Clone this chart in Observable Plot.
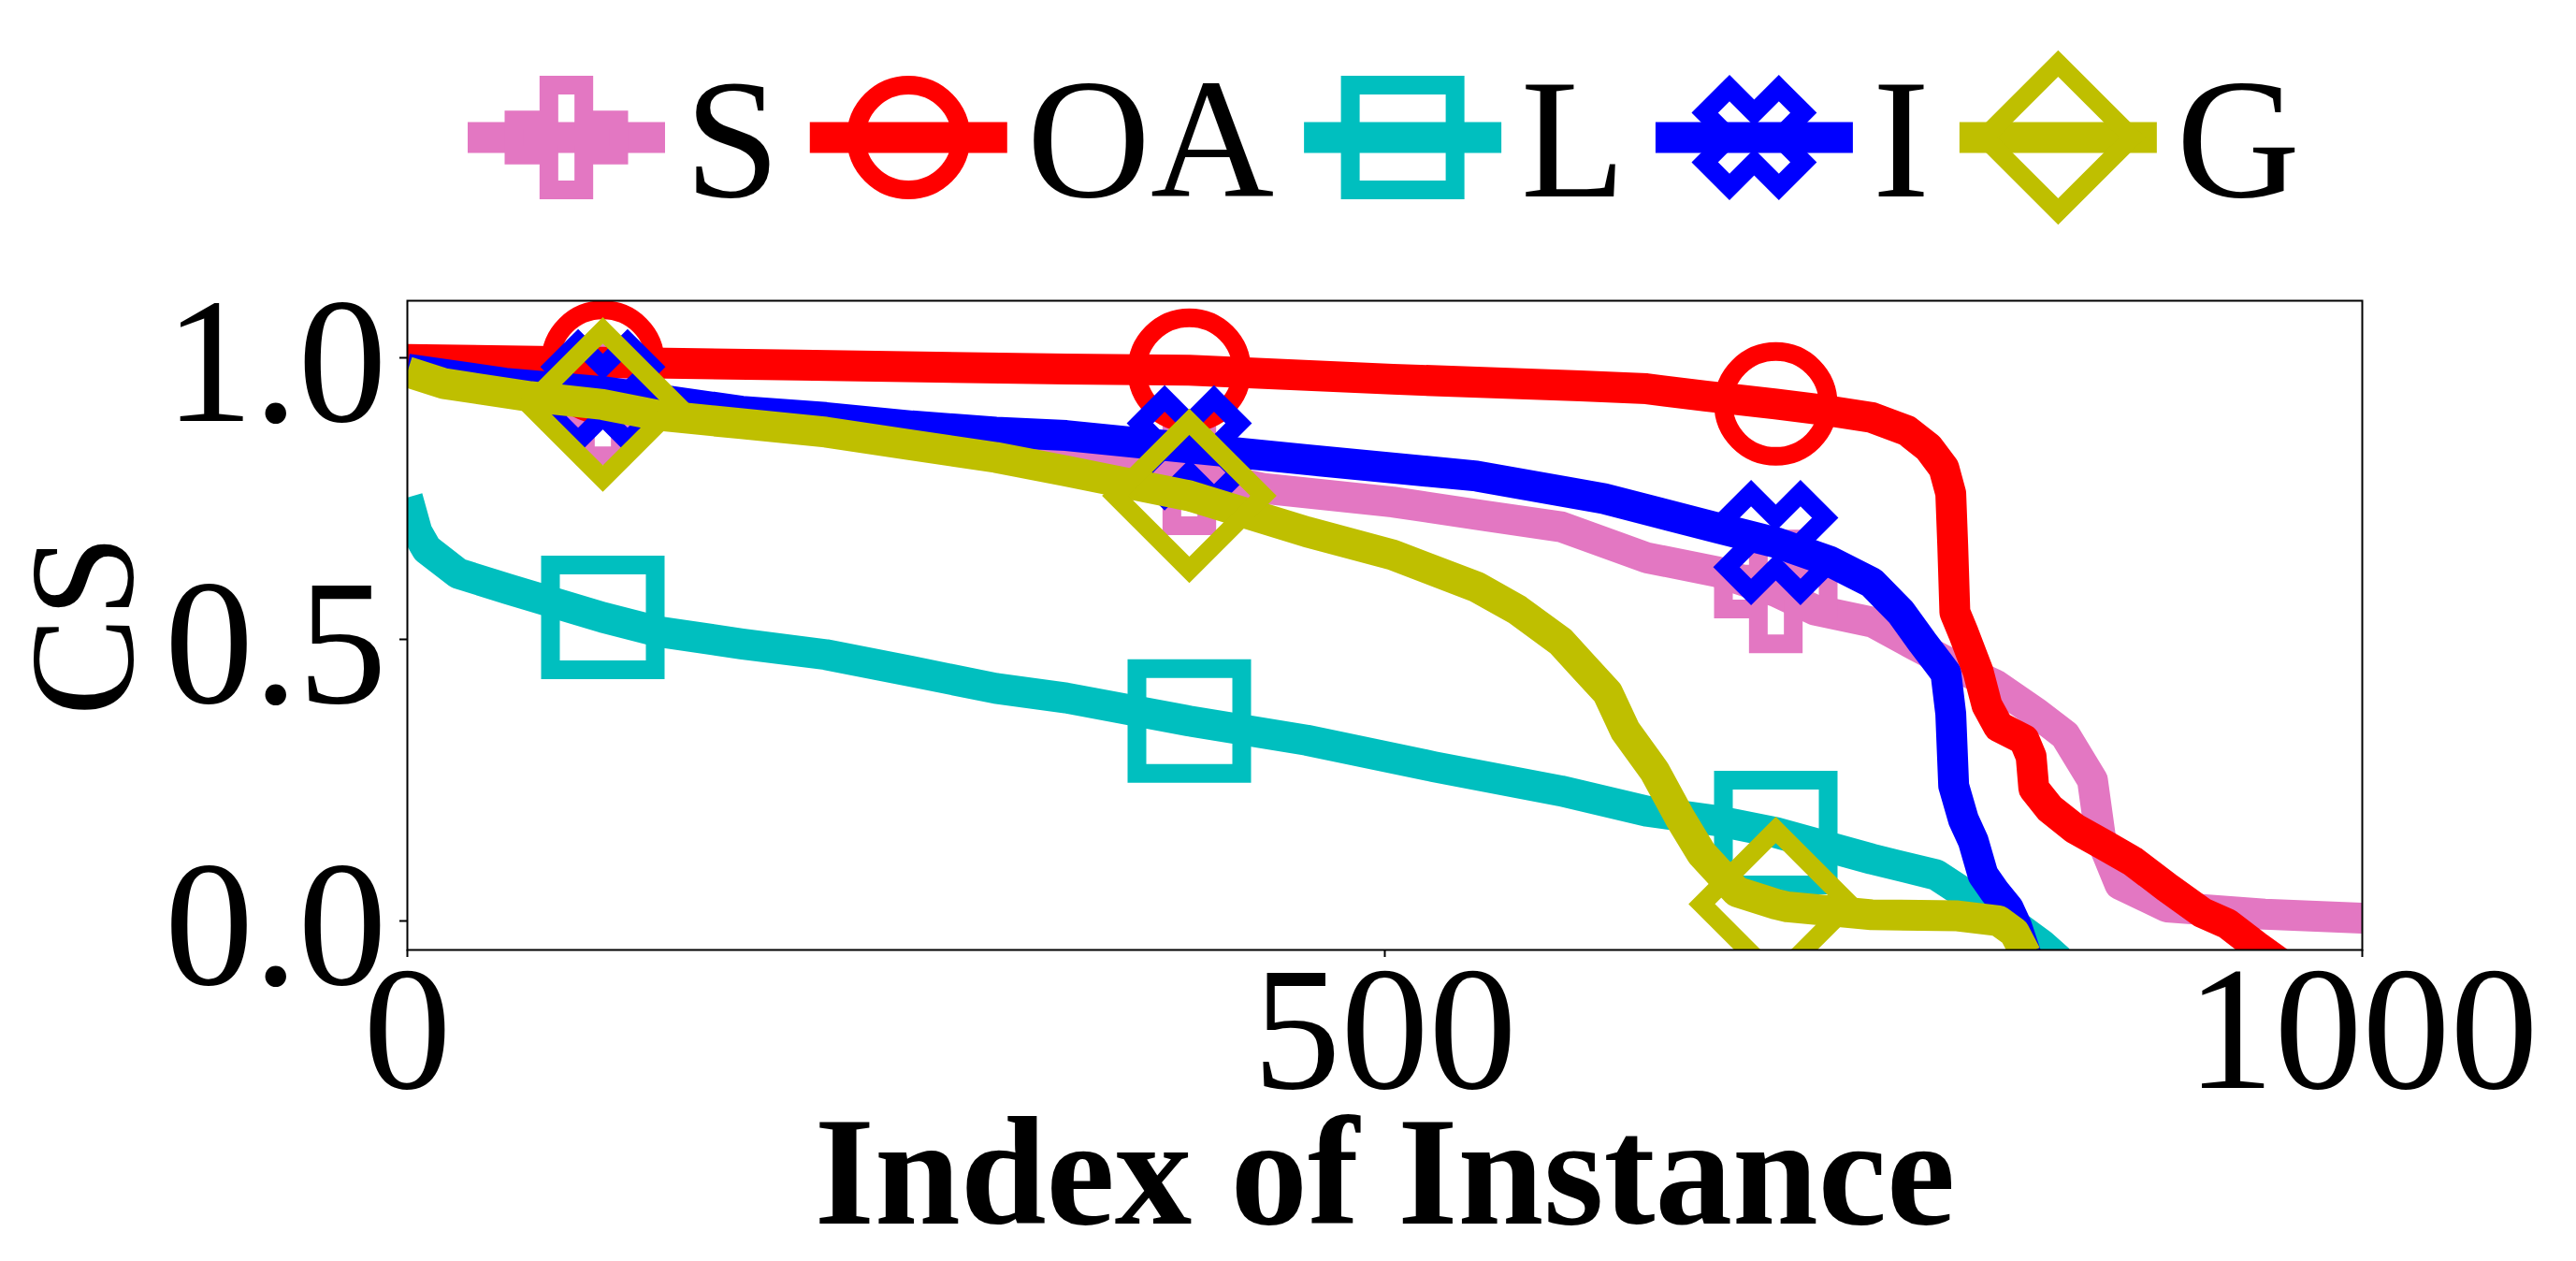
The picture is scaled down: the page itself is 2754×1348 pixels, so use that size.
<!DOCTYPE html>
<html>
<head>
<meta charset="utf-8">
<script src="https://cdn.jsdelivr.net/npm/d3@7"></script>
<script src="https://cdn.jsdelivr.net/npm/@observablehq/plot@0.6"></script>
<style>
  html, body { margin: 0; padding: 0; background: white; overflow: hidden; }
  svg { display: block; }
</style>
</head>
<body>
<div id="legend"></div>
<div id="chart"></div>
<script>
// ---- data (index of instance, CS) ----
const names = ["S", "OA", "L", "I", "G"];
const colors = ["#e377c2", "#ff0000", "#00bfbf", "#0000ff", "#bfbf00"];
const markerIndex = [100, 400, 700];
const xTicks = [0, 500, 1000];
const yTicks = [0, 0.5, 1.0];

const S = [[0, 0.975], [20, 0.96], [50, 0.94], [100, 0.919], [150, 0.90], [200, 0.88], [250, 0.86],
  [300, 0.84], [337, 0.822], [400, 0.795], [438, 0.768], [504, 0.744], [550, 0.72], [590, 0.70],
  [634, 0.645], [670, 0.62], [700, 0.585], [720, 0.552], [750, 0.53], [771, 0.49], [793, 0.45],
  [812, 0.42], [833, 0.37], [848, 0.33], [862, 0.25], [866, 0.15], [876, 0.065], [900, 0.025],
  [950, 0.012], [1000, 0.005]];
const OA = [[0, 0.997], [100, 0.992], [200, 0.987], [337, 0.980], [400, 0.978], [504, 0.962],
  [600, 0.950], [634, 0.945], [664, 0.932], [700, 0.918], [721, 0.909], [749, 0.894], [767, 0.871],
  [778, 0.841], [786, 0.804], [789.5, 0.759], [790.5, 0.668], [791.6, 0.548], [796, 0.511],
  [803.5, 0.443], [808, 0.383], [814, 0.345], [827, 0.322], [830.6, 0.292], [832, 0.235],
  [840, 0.200], [853, 0.164], [868, 0.135], [883, 0.105], [900, 0.06], [918, 0.015],
  [931, -0.005], [946, -0.045], [960, -0.08]];
const L = [[0, 0.752], [5, 0.69], [10, 0.66], [26, 0.617], [52, 0.589], [100, 0.539], [128, 0.514],
  [171, 0.492], [214, 0.473], [258, 0.443], [301, 0.413], [337, 0.396], [400, 0.355], [460, 0.321],
  [525, 0.274], [590, 0.231], [634, 0.195], [670, 0.178], [700, 0.157], [749, 0.110], [782, 0.082],
  [797, 0.048], [814, 0.014], [836, -0.042], [845, -0.07]];
const I = [[0, 0.98], [50, 0.955], [100, 0.940], [171, 0.905], [214, 0.894], [258, 0.879],
  [301, 0.868], [337, 0.862], [400, 0.840], [460, 0.819], [547, 0.790], [612, 0.750], [670, 0.698],
  [700, 0.672], [728, 0.638], [749, 0.601], [764, 0.548], [775, 0.495], [784, 0.454], [787, 0.44],
  [789.5, 0.368], [791, 0.24], [796, 0.18], [801, 0.142], [806, 0.082], [812, 0.052], [819, 0.022],
  [823, -0.008], [828, -0.06]];
const G = [[0, 0.975], [19, 0.954], [63, 0.931], [100, 0.917], [128, 0.898], [171, 0.883],
  [214, 0.868], [258, 0.845], [301, 0.823], [337, 0.799], [400, 0.755], [460, 0.691], [504, 0.650],
  [547, 0.593], [568, 0.552], [590, 0.496], [601, 0.454], [614, 0.405], [623, 0.338], [638, 0.266],
  [651, 0.183], [662, 0.12], [680, 0.052], [700, 0.030], [706, 0.025], [749, 0.011], [793, 0.009],
  [814, 0.0], [822, -0.02], [828, -0.06]];
const seriesData = [S, OA, L, I, G];

// ---- marker shapes (hollow, matplotlib-like) ----
const plusPts = [[-1,-3],[1,-3],[1,-1],[3,-1],[3,1],[1,1],[1,3],[-1,3],[-1,1],[-3,1],[-3,-1],[-1,-1]];
function polySymbol(pts, scale, rot = 0) {
  return {
    draw(ctx, size) {
      const r = Math.sqrt(size / Math.PI), c = Math.cos(rot), s = Math.sin(rot);
      pts.forEach(([x, y], k) => {
        const px = (x * c - y * s) * r * scale, py = (x * s + y * c) * r * scale;
        k ? ctx.lineTo(px, py) : ctx.moveTo(px, py);
      });
      ctx.closePath();
    }
  };
}
const symCircle = {draw(ctx, size) { const r = Math.sqrt(size / Math.PI); ctx.moveTo(r, 0); ctx.arc(0, 0, r, 0, 2 * Math.PI); ctx.closePath(); }};
const symbols = [
  polySymbol(plusPts, 1 / 3),
  symCircle,
  polySymbol([[-1,-1],[1,-1],[1,1],[-1,1]], 1),
  polySymbol(plusPts, 1 / 3, Math.PI / 4),
  polySymbol([[0,-1],[1,0],[0,1],[-1,0]], Math.SQRT2)
];
const markerR = 56, markerStroke = 20, lineWidth = 33;

// ---- legend (above the plot svg) ----
const legendEl = document.getElementById("legend");
const legend = d3.select(legendEl).append("svg").attr("width", 2754).attr("height", 260);
let lx = 500;
const cy = 147, swatchW = 211;
names.forEach((n, k) => {
  legend.append("line").attr("x1", lx).attr("x2", lx + swatchW).attr("y1", cy).attr("y2", cy)
    .attr("stroke", colors[k]).attr("stroke-width", lineWidth);
  legend.append("path").attr("transform", `translate(${lx + swatchW / 2},${cy})`)
    .attr("d", d3.symbol(symbols[k], markerR * markerR * Math.PI)())
    .attr("fill", "none").attr("stroke", colors[k]).attr("stroke-width", markerStroke)
    .attr("stroke-linejoin", "miter");
  const t = legend.append("text").attr("x", lx + swatchW + 21).attr("y", 210).text(n)
    .attr("font-family", "Liberation Serif").attr("font-size", 183).attr("fill", "black");
  lx = lx + swatchW + 21 + t.node().getComputedTextLength() + 32;
});

// ---- chart ----
const seriesMarks = names.flatMap((n, k) => {
  const d = seriesData[k].map(([i, v]) => ({i, v}));
  return [
    Plot.line(d, {x: "i", y: "v", stroke: colors[k], strokeWidth: lineWidth, strokeLinejoin: "round", strokeLinecap: "butt", clip: true}),
    Plot.dot(d.filter(p => markerIndex.includes(p.i)), {x: "i", y: "v", symbol: symbols[k], r: markerR,
      stroke: colors[k], strokeWidth: markerStroke, fill: "none", strokeLinejoin: "miter", clip: true})
  ];
});

const chart = Plot.plot({
  width: 2754,
  height: 1088,
  marginLeft: 435,
  marginRight: 229,
  marginTop: 61,
  marginBottom: 333,
  style: {fontFamily: "Liberation Serif", background: "white", color: "black", overflow: "visible"},
  x: {domain: [0, 1000]},
  y: {domain: [-0.0515, 1.1013]},
  marks: [
    ...seriesMarks,
    Plot.frame({stroke: "black", strokeWidth: 2}),
    Plot.axisX({ticks: xTicks, tickSize: 8, tickPadding: 6, strokeWidth: 2, fontSize: 188, label: null, tickFormat: d3.format("d")}),
    Plot.axisY({ticks: yTicks, tickSize: 8, strokeWidth: 2, fill: "none", label: null}),
    Plot.axisY({ticks: yTicks, tickSize: 0, tickPadding: 22, dy: 7, fontSize: 190, label: null, tickFormat: d3.format(".1f")}),
    Plot.text(["Index of Instance"], {frameAnchor: "bottom", dy: 292, lineAnchor: "bottom", textAnchor: "middle", fontSize: 165, fontWeight: "bold"}),
    Plot.text(["CS"], {frameAnchor: "left", rotate: -90, dx: -345, lineAnchor: "middle", textAnchor: "middle", fontSize: 158})
  ]
});
document.getElementById("chart").append(chart);
</script>
</body>
</html>
